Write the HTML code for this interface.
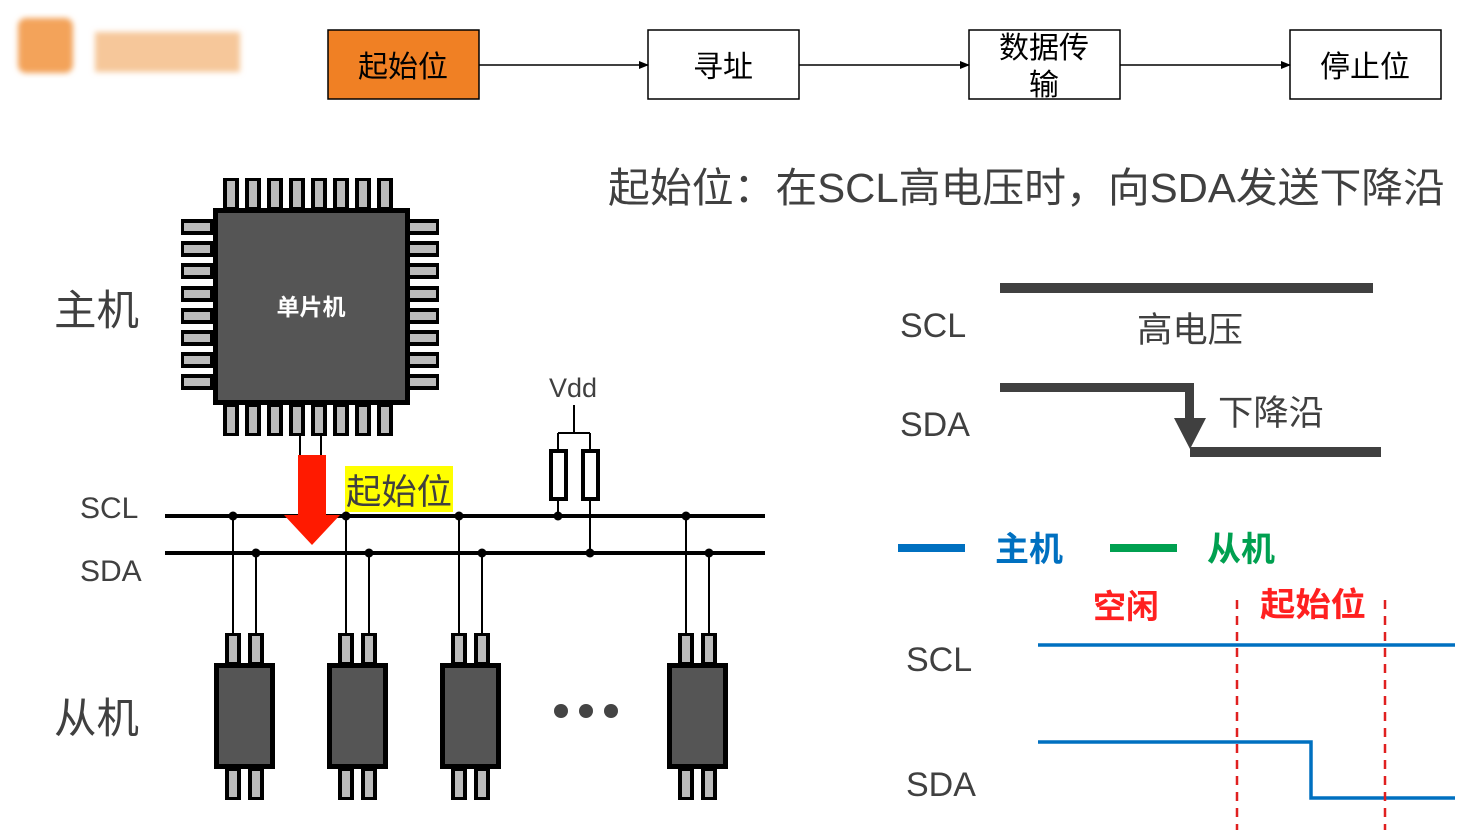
<!DOCTYPE html>
<html><head><meta charset="utf-8"><style>
html,body{margin:0;padding:0;background:#fff;}
svg{display:block;}
text{font-family:"Liberation Sans","Noto Sans CJK SC",sans-serif;}
</style></head><body>
<svg width="1472" height="837" viewBox="0 0 1472 837" xmlns="http://www.w3.org/2000/svg">
<defs>
<marker id="ar" markerWidth="10" markerHeight="8" refX="9" refY="4" orient="auto" markerUnits="userSpaceOnUse"><path d="M0,0 L10,4 L0,8 z" fill="#000"/></marker>
<filter id="bl"><feGaussianBlur stdDeviation="3"/></filter>
<g id="pv"><rect x="0" y="0" width="16" height="32" fill="#000"/><rect x="4" y="3" width="8" height="26" fill="#bbb"/></g>
<g id="ph"><rect x="0" y="0" width="32" height="16" fill="#000"/><rect x="3" y="4" width="26" height="8" fill="#bbb"/></g>
<g id="slave">
<use href="#pv" x="11" y="-30"/><use href="#pv" x="34" y="-30"/>
<use href="#pv" x="11" y="105"/><use href="#pv" x="34" y="105"/>
<rect x="0" y="0" width="61" height="106" fill="#000"/>
<rect x="5" y="5" width="51" height="96" fill="#555"/>
</g>
</defs>

<g filter="url(#bl)">
<rect x="18" y="18" width="55" height="55" fill="#f3a35a" rx="8"/>
<rect x="95" y="32" width="145" height="40" fill="#f6c79a"/>
</g>

<g font-size="30" text-anchor="middle">
<rect x="328" y="30" width="151" height="69" fill="#f08024" stroke="#000" stroke-width="1.5"/>
<text x="403" y="77">起始位</text>
<rect x="648" y="30" width="151" height="69" fill="#fff" stroke="#000" stroke-width="1.5"/>
<text x="723" y="77">寻址</text>
<rect x="969" y="30" width="151" height="69" fill="#fff" stroke="#000" stroke-width="1.5"/>
<text x="1044" y="58">数据传</text><text x="1044" y="95">输</text>
<rect x="1290" y="30" width="151" height="69" fill="#fff" stroke="#000" stroke-width="1.5"/>
<text x="1365" y="77">停止位</text>
</g>
<g stroke="#000" stroke-width="1.5" marker-end="url(#ar)">
<line x1="479" y1="65" x2="648" y2="65"/>
<line x1="799" y1="65" x2="969" y2="65"/>
<line x1="1120" y1="65" x2="1290" y2="65"/>
</g>

<text x="608" y="202" font-size="41" fill="#404040" textLength="837" lengthAdjust="spacingAndGlyphs">起始位：在SCL高电压时，向SDA发送下降沿</text>

<g>
<use href="#pv" x="223" y="178"/><use href="#pv" x="245" y="178"/><use href="#pv" x="267" y="178"/><use href="#pv" x="289" y="178"/><use href="#pv" x="311" y="178"/><use href="#pv" x="333" y="178"/><use href="#pv" x="355" y="178"/><use href="#pv" x="377" y="178"/>
<use href="#pv" x="223" y="404"/><use href="#pv" x="245" y="404"/><use href="#pv" x="267" y="404"/><use href="#pv" x="289" y="404"/><use href="#pv" x="311" y="404"/><use href="#pv" x="333" y="404"/><use href="#pv" x="355" y="404"/><use href="#pv" x="377" y="404"/>
<use href="#ph" x="181" y="219"/><use href="#ph" x="181" y="241"/><use href="#ph" x="181" y="263"/><use href="#ph" x="181" y="286"/><use href="#ph" x="181" y="308"/><use href="#ph" x="181" y="330"/><use href="#ph" x="181" y="352"/><use href="#ph" x="181" y="374"/>
<use href="#ph" x="407" y="219"/><use href="#ph" x="407" y="241"/><use href="#ph" x="407" y="263"/><use href="#ph" x="407" y="286"/><use href="#ph" x="407" y="308"/><use href="#ph" x="407" y="330"/><use href="#ph" x="407" y="352"/><use href="#ph" x="407" y="374"/>
<rect x="213" y="208" width="197" height="197" fill="#000"/>
<rect x="218" y="213" width="187" height="187" fill="#555"/>
<text x="311" y="315" font-size="23" font-weight="bold" fill="#fff" text-anchor="middle">单片机</text>
</g>
<line x1="300" y1="435" x2="300" y2="456" stroke="#000" stroke-width="2"/>
<line x1="321" y1="435" x2="321" y2="456" stroke="#000" stroke-width="2"/>

<text x="54" y="325" font-size="42" fill="#404040" textLength="85" lengthAdjust="spacingAndGlyphs">主机</text>
<text x="54" y="733" font-size="42" fill="#404040" textLength="85" lengthAdjust="spacingAndGlyphs">从机</text>
<text x="80" y="518" font-size="30" fill="#404040">SCL</text>
<text x="80" y="581" font-size="30" fill="#404040">SDA</text>

<line x1="165" y1="516" x2="765" y2="516" stroke="#000" stroke-width="4"/>
<line x1="165" y1="553" x2="765" y2="553" stroke="#000" stroke-width="4"/>

<path d="M298,455 H326 V515 H340 L312,545 L284,515 H298 Z" fill="#ff1a00"/>
<rect x="345" y="466" width="108" height="46" fill="#ffff00"/>
<text x="346" y="504" font-size="35" fill="#404040" textLength="106" lengthAdjust="spacingAndGlyphs">起始位</text>

<g stroke="#000" stroke-width="2">
<line x1="233" y1="516" x2="233" y2="634"/><line x1="256" y1="553" x2="256" y2="634"/>
<line x1="346" y1="516" x2="346" y2="634"/><line x1="369" y1="553" x2="369" y2="634"/>
<line x1="459" y1="516" x2="459" y2="634"/><line x1="482" y1="553" x2="482" y2="634"/>
<line x1="686" y1="516" x2="686" y2="634"/><line x1="709" y1="553" x2="709" y2="634"/>
<line x1="558" y1="499" x2="558" y2="516"/><line x1="590" y1="499" x2="590" y2="553"/>
<line x1="558" y1="433" x2="590" y2="433"/><line x1="558" y1="433" x2="558" y2="451"/><line x1="590" y1="433" x2="590" y2="451"/>
<line x1="574" y1="405" x2="574" y2="433"/>
</g>
<g fill="#000">
<circle cx="233" cy="516" r="4.5"/><circle cx="256" cy="553" r="4.5"/>
<circle cx="346" cy="516" r="4.5"/><circle cx="369" cy="553" r="4.5"/>
<circle cx="459" cy="516" r="4.5"/><circle cx="482" cy="553" r="4.5"/>
<circle cx="686" cy="516" r="4.5"/><circle cx="709" cy="553" r="4.5"/>
<circle cx="558" cy="516" r="4.5"/><circle cx="590" cy="553" r="4.5"/>
</g>
<rect x="551" y="451" width="15" height="48" fill="#fff" stroke="#000" stroke-width="4"/>
<rect x="583" y="451" width="15" height="48" fill="#fff" stroke="#000" stroke-width="4"/>
<text x="573" y="397" font-size="27" fill="#404040" text-anchor="middle">Vdd</text>

<use href="#slave" x="214" y="663"/>
<use href="#slave" x="327" y="663"/>
<use href="#slave" x="440" y="663"/>
<use href="#slave" x="667" y="663"/>
<g fill="#444"><circle cx="561" cy="711" r="7"/><circle cx="586" cy="711" r="7"/><circle cx="611" cy="711" r="7"/></g>

<text x="900" y="337" font-size="34" fill="#404040">SCL</text>
<text x="900" y="436" font-size="34" fill="#404040">SDA</text>
<rect x="1000" y="283" width="373" height="10" fill="#404040"/>
<text x="1137" y="342" font-size="35" fill="#404040" textLength="106" lengthAdjust="spacingAndGlyphs">高电压</text>
<rect x="1000" y="383" width="194" height="9" fill="#404040"/>
<rect x="1185" y="383" width="9" height="40" fill="#404040"/>
<path d="M1174,418 H1206 L1190,449 Z" fill="#404040"/>
<rect x="1190" y="447" width="191" height="10" fill="#404040"/>
<text x="1218" y="425" font-size="35" fill="#404040" textLength="106" lengthAdjust="spacingAndGlyphs">下降沿</text>

<rect x="898" y="544" width="67" height="8" fill="#0070c0"/>
<text x="995" y="561" font-size="34" font-weight="bold" fill="#0070c0">主机</text>
<rect x="1110" y="544" width="67" height="8" fill="#00a050"/>
<text x="1207" y="561" font-size="34" font-weight="bold" fill="#00a050">从机</text>
<text x="1093" y="618" font-size="33" font-weight="bold" fill="#ff2020">空闲</text>
<text x="1260" y="616" font-size="33" font-weight="bold" fill="#ff2020" textLength="106" lengthAdjust="spacingAndGlyphs">起始位</text>

<text x="906" y="671" font-size="34" fill="#404040">SCL</text>
<text x="906" y="796" font-size="34" fill="#404040">SDA</text>
<line x1="1038" y1="645" x2="1455" y2="645" stroke="#0070c0" stroke-width="3.5"/>
<path d="M1038,742 H1311 V798 H1455" fill="none" stroke="#0070c0" stroke-width="3.5"/>
<line x1="1237" y1="600" x2="1237" y2="830" stroke="#e02020" stroke-width="2.5" stroke-dasharray="9,7"/>
<line x1="1385" y1="600" x2="1385" y2="830" stroke="#e02020" stroke-width="2.5" stroke-dasharray="9,7"/>
</svg>
</body></html>
